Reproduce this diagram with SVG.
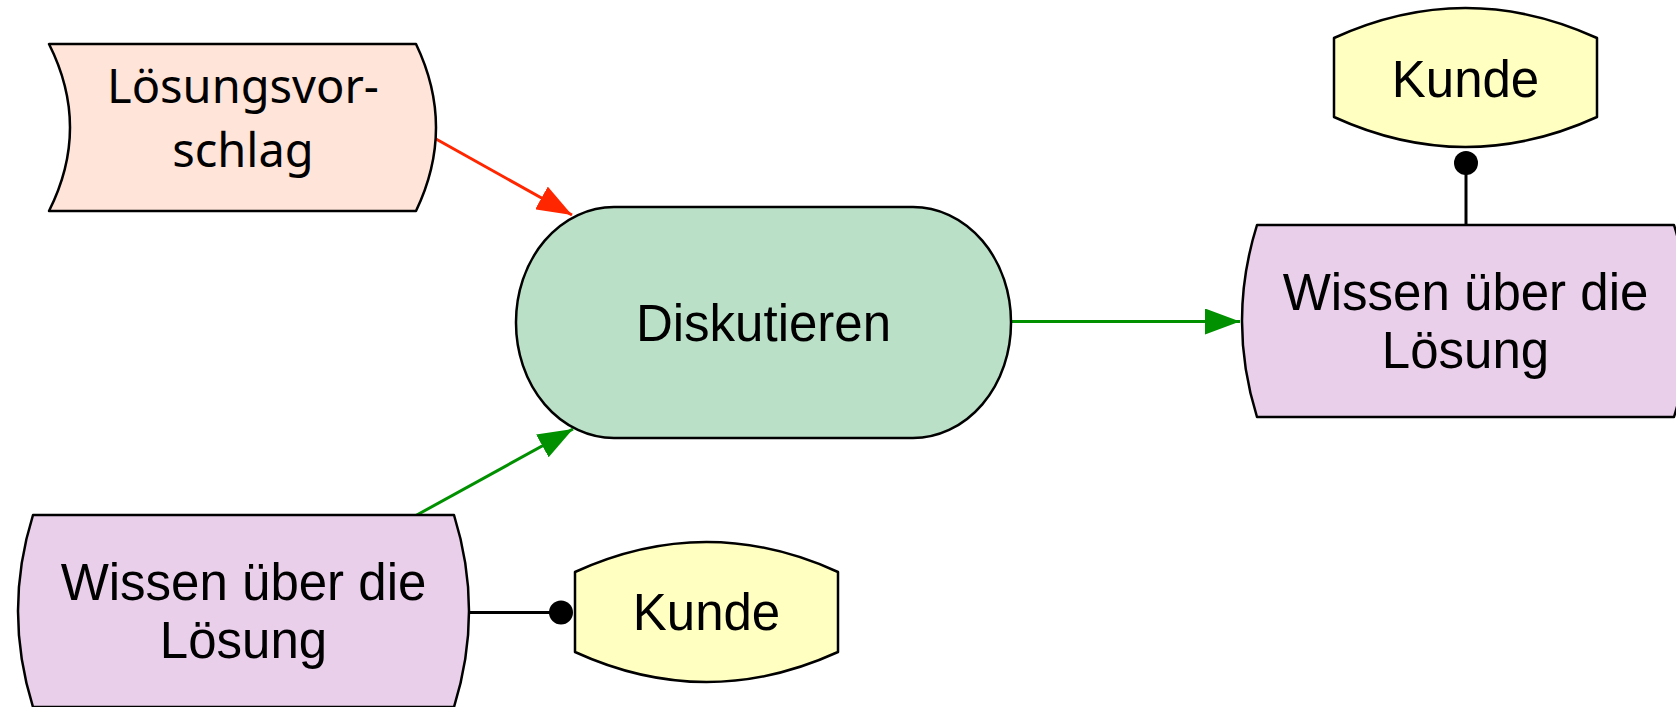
<svg xmlns="http://www.w3.org/2000/svg" width="1676" height="707" viewBox="0 0 1676 707">
<style>
.node{stroke:#000;stroke-width:2.5;stroke-linejoin:round}
.doc{fill:#ffe4d9}
.fn{fill:#bbe0c8}
.info{fill:#eacfeb}
.org{fill:#ffffc2}
.t{font-family:"Liberation Sans",Arial,Helvetica,sans-serif;font-size:51px;fill:#000;text-anchor:middle}
.t2{font-family:"Noto Sans","Open Sans",sans-serif;font-size:47px;fill:#000;text-anchor:middle}
.red{stroke:#ff2600;stroke-width:3;fill:none}
.green{stroke:#009000;stroke-width:3;fill:none}
.blk{stroke:#000;stroke-width:3;fill:none}
</style>
<defs>
<marker id="ar" viewBox="0 0 35 26" refX="35" refY="13" markerWidth="35" markerHeight="26" markerUnits="userSpaceOnUse" orient="auto"><path d="M0,0 L35,13 L0,26 Z" fill="#ff2600"/></marker>
<marker id="ag" viewBox="0 0 35 26" refX="35" refY="13" markerWidth="35" markerHeight="26" markerUnits="userSpaceOnUse" orient="auto"><path d="M0,0 L35,13 L0,26 Z" fill="#009000"/></marker>
</defs>
<g id="connectors">
<line class="red" x1="436" y1="139" x2="572" y2="215" marker-end="url(#ar)"/>
<line class="green" x1="415" y1="516" x2="573" y2="429" marker-end="url(#ag)"/>
<line class="green" x1="1011" y1="321.5" x2="1240" y2="321.5" marker-end="url(#ag)"/>
<line class="blk" x1="1466" y1="163" x2="1466" y2="225"/>
<circle cx="1466" cy="163" r="12" fill="#000"/>
<line class="blk" x1="467" y1="612.5" x2="561" y2="612.5"/>
<circle cx="561" cy="612.5" r="12" fill="#000"/>
</g>
<g id="loesungsvorschlag">
<path class="node doc" d="M49,44 L416,44 Q456,127.5 416,211 L49,211 Q91,127.5 49,44 Z"/>
<text class="t2" x="243" y="103">Lösungsvor-</text>
<text class="t2" x="243" y="167">schlag</text>
</g>
<g id="diskutieren">
<rect class="node fn" x="516" y="207" width="495" height="231" rx="98" ry="115"/>
<text class="t" x="763.5" y="341">Diskutieren</text>
</g>
<g id="wissen-rechts">
<path class="node info" d="M1257,225 L1674,225 Q1704,321 1674,417 L1257,417 Q1227,321 1257,225 Z"/>
<text class="t" x="1465.5" y="310">Wissen über die</text>
<text class="t" x="1465.5" y="368">Lösung</text>
</g>
<g id="kunde-oben">
<path class="node org" d="M1334,38 Q1465.5,-22 1597,38 L1597,117 Q1465.5,177 1334,117 Z"/>
<text class="t" x="1465.5" y="97">Kunde</text>
</g>
<g id="wissen-links">
<path class="node info" d="M33,515 L454,515 Q484,611 454,707 L33,707 Q3,611 33,515 Z"/>
<text class="t" x="243.5" y="600">Wissen über die</text>
<text class="t" x="243.5" y="658">Lösung</text>
</g>
<g id="kunde-unten">
<path class="node org" d="M575,572 Q706.5,512 838,572 L838,652 Q706.5,712 575,652 Z"/>
<text class="t" x="706.5" y="630">Kunde</text>
</g>
</svg>
